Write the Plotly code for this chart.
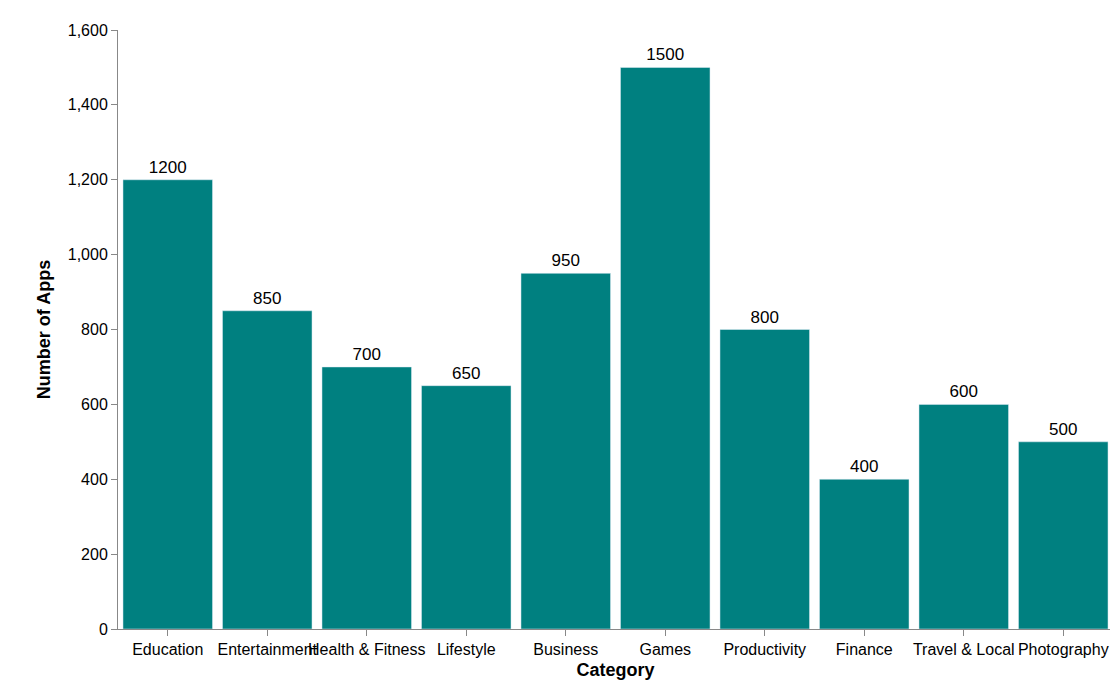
import plotly.graph_objects as go

categories = ["Education", "Entertainment", "Health & Fitness", "Lifestyle", "Business",
              "Games", "Productivity", "Finance", "Travel & Local", "Photography"]
apps = [1200, 850, 700, 650, 950, 1500, 800, 400, 600, 500]

fig = go.Figure(go.Bar(
    x=categories, y=apps, marker_color="#008080",
    text=[str(v) for v in apps], textposition="outside",
    textfont=dict(size=17, color="black"), cliponaxis=False,
))

fig.update_layout(
    width=1118, height=694,
    margin=dict(l=110, r=13, t=22, b=73),
    plot_bgcolor="white", paper_bgcolor="white",
    font=dict(family="Arial, Liberation Sans, sans-serif", size=16, color="black"),
    bargap=0.1, showlegend=False,
)
fig.update_xaxes(
    title=dict(text="<b>Category</b>", font=dict(size=18), standoff=6),
    showline=True, linecolor="#888", ticks="outside", tickcolor="#888",
    ticklen=6, tickangle=0, showgrid=False,
)
fig.update_yaxes(
    title=dict(text="<b>Number of Apps</b>", font=dict(size=18), standoff=12),
    range=[0, 1600], dtick=200, tickformat=",",
    showline=True, linecolor="#888", ticks="outside", tickcolor="#888",
    ticklen=6, showgrid=False, zeroline=False,
)

fig.write_html("out.html")
